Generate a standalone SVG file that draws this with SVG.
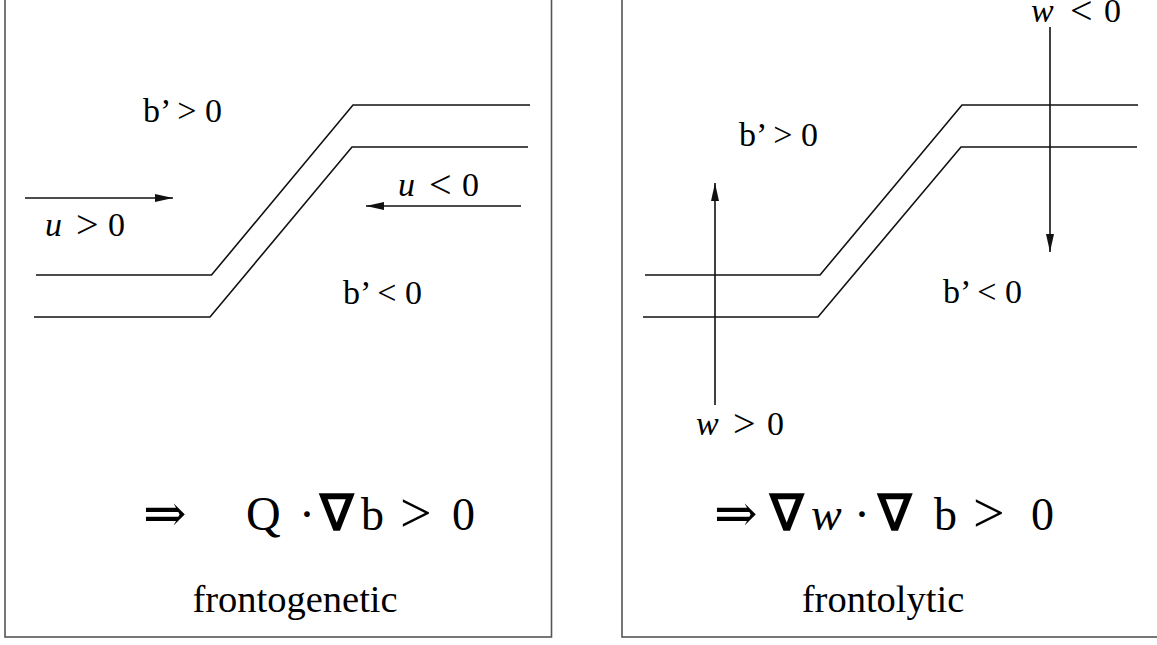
<svg xmlns="http://www.w3.org/2000/svg" width="1157" height="645" viewBox="0 0 1157 645">
<defs>
<style>
.box{fill:none;stroke:#555;stroke-width:1.6}
.front{fill:none;stroke:#111;stroke-width:1.6}
.arr{fill:none;stroke:#111;stroke-width:1.6}
.t{font-family:"Liberation Serif","Times New Roman",serif;fill:#000}
.sym{font-family:"DejaVu Serif","Liberation Serif",serif;font-weight:normal}
.rel{font-family:"Liberation Serif","Times New Roman",serif}
.lab{font-size:34px}
.it{font-style:italic}
.eq{font-size:44px}
.cap{font-size:38.5px}
.bold{font-weight:bold}
</style>
<marker id="ah" markerWidth="18" markerHeight="8" refX="18" refY="4" orient="auto" markerUnits="userSpaceOnUse">
<path d="M0,0 L18,4 L0,8 Z" fill="#111"/>
</marker>
</defs>
<rect width="1157" height="645" fill="#fff"/>
<g id="panel-left">
<rect class="box" x="5" y="-5" width="546.5" height="642"/>
<path class="front" d="M36,275 L211.5,275 L353,105 L530,105"/>
<path class="front" d="M34,317 L210,317 L352,147 L528,147"/>
<text class="t lab" x="143" y="122">b’ &gt; 0</text>
<text class="t lab" x="343" y="304">b’ &lt; 0</text>
<text class="t lab"><tspan class="it" x="45" y="236">u</tspan><tspan class="rel" x="76" y="238" font-size="40">&gt;</tspan><tspan x="108" y="236">0</tspan></text>
<text class="t lab"><tspan class="it" x="398" y="196">u</tspan><tspan class="rel" x="429" y="198" font-size="40">&lt;</tspan><tspan x="462" y="196">0</tspan></text>
<text class="t eq"><tspan class="sym" x="143" y="531" font-size="52">⇒</tspan><tspan x="246" y="530" font-size="48">Q</tspan><tspan class="sym" x="300" y="530">·</tspan><tspan class="bold" x="320" y="530" font-size="50">∇</tspan><tspan x="361" y="530" font-size="46">b</tspan><tspan class="rel" x="400" y="532" font-size="56">&gt;</tspan><tspan x="452" y="530" font-size="46">0</tspan></text>
<text class="t cap" x="295" y="612" text-anchor="middle">frontogenetic</text>
</g>
<g id="panel-right">
<rect class="box" x="622" y="-5" width="545" height="642"/>
<path class="front" d="M645,275 L820,275 L962,105 L1138,105"/>
<path class="front" d="M643,317 L818,317 L961,147 L1137,147"/>
<text class="t lab" x="739" y="146">b’ &gt; 0</text>
<text class="t lab" x="943" y="303">b’ &lt; 0</text>
<text class="t lab"><tspan class="it" x="696" y="435">w</tspan><tspan class="rel" x="733" y="437" font-size="40">&gt;</tspan><tspan x="767" y="435">0</tspan></text>
<text class="t lab"><tspan class="it" x="1031" y="22">w</tspan><tspan class="rel" x="1070" y="24" font-size="40">&lt;</tspan><tspan x="1104" y="22">0</tspan></text>
<text class="t eq"><tspan class="sym" x="714" y="531" font-size="52">⇒</tspan><tspan class="bold" x="770" y="530" font-size="50">∇</tspan><tspan class="it" x="811" y="530" font-size="46">w</tspan><tspan class="sym" x="855" y="530">·</tspan><tspan class="bold" x="878" y="530" font-size="50">∇</tspan><tspan x="934" y="530" font-size="46">b</tspan><tspan class="rel" x="973" y="532" font-size="56">&gt;</tspan><tspan x="1031" y="530" font-size="46">0</tspan></text>
<text class="t cap" x="883" y="612" text-anchor="middle">frontolytic</text>
</g>
<g id="connectors">
<line class="arr" x1="25" y1="198" x2="173" y2="198" marker-end="url(#ah)"/>
<line class="arr" x1="521" y1="206" x2="366" y2="206" marker-end="url(#ah)"/>
<line class="arr" x1="715" y1="405" x2="715" y2="183" marker-end="url(#ah)"/>
<line class="arr" x1="1050" y1="27" x2="1050" y2="252" marker-end="url(#ah)"/>
</g>
</svg>
